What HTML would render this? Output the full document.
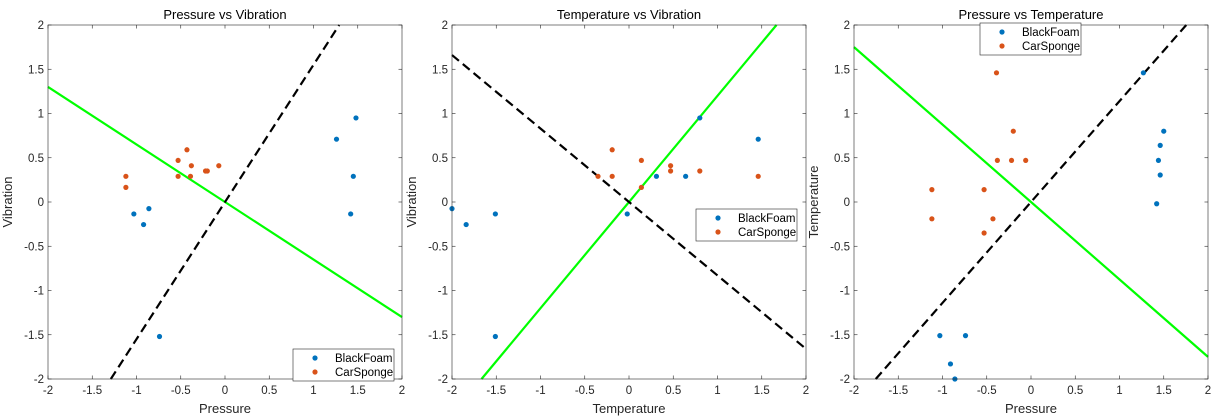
<!DOCTYPE html>
<html><head><meta charset="utf-8"><style>
html,body{margin:0;padding:0;background:#fff;width:1219px;height:420px;overflow:hidden;}
svg{display:block;font-family:"Liberation Sans",Arial,sans-serif;overflow:hidden;}
</style></head><body>
<svg id="c" width="1219" height="420"></svg>
<script>
const ticks = [-2,-1.5,-1,-0.5,0,0.5,1,1.5,2];
const titles = ["Pressure vs Vibration","Temperature vs Vibration","Pressure vs Temperature"];
const xLabels = ["Pressure","Temperature","Pressure"];
const yLabels = ["Vibration","Vibration","Temperature"];
const p1BlueX = [1.26,1.48,1.45,1.42,-1.03,-0.92,-0.86,-0.74];
const p1BlueY = [0.71,0.95,0.29,-0.135,-0.135,-0.255,-0.075,-1.52];
const p1OrangeX = [-1.12,-1.12,-0.53,-0.53,-0.43,-0.38,-0.39,-0.22,-0.20,-0.07];
const p1OrangeY = [0.29,0.165,0.47,0.29,0.59,0.41,0.29,0.35,0.35,0.41];
const p2BlueX = [-2.0,-1.84,-1.51,-1.51,-0.02,0.31,0.64,0.80,1.46];
const p2BlueY = [-0.075,-0.255,-0.135,-1.52,-0.135,0.29,0.29,0.95,0.71];
const p2OrangeX = [-0.35,-0.19,-0.19,0.14,0.14,0.47,0.47,0.80,1.46];
const p2OrangeY = [0.29,0.59,0.29,0.47,0.165,0.41,0.35,0.35,0.29];
const p3BlueX = [1.27,1.50,1.46,1.44,1.46,1.42,-1.03,-0.74,-0.91,-0.86];
const p3BlueY = [1.46,0.80,0.64,0.47,0.305,-0.02,-1.51,-1.51,-1.83,-2.0];
const p3OrangeX = [-0.39,-0.20,-0.38,-0.22,-0.06,-1.12,-0.53,-1.12,-0.43,-0.53];
const p3OrangeY = [1.46,0.80,0.47,0.47,0.47,0.14,0.14,-0.19,-0.19,-0.35];
const greenSlopes = [-0.65,1.2,-0.875];
const dashSlopes = [1.55,-0.83,1.14];
const legendPos = [[293,349],[696,209],[980,23]];

const NS="http://www.w3.org/2000/svg";
const svg=document.getElementById('c');
function mk(tag,attrs,parent){const e=document.createElementNS(NS,tag);for(const k in attrs)e.setAttribute(k,attrs[k]);(parent||svg).appendChild(e);return e;}
const lefts=[48,452,854];
const top0=25, size=354;
const series=[[p1BlueX,p1BlueY,p1OrangeX,p1OrangeY],[p2BlueX,p2BlueY,p2OrangeX,p2OrangeY],[p3BlueX,p3BlueY,p3OrangeX,p3OrangeY]];
for(let p=0;p<3;p++){
  const L=lefts[p];
  const g=mk('g',{});
  
  
  const sx=v=>L+(v+2)/4*size, sy=v=>top0+(2-v)/4*size;
  mk('rect',{x:L,y:top0,width:size,height:size,fill:'#fff',stroke:'none'},g);
  ticks.forEach(t=>{
    const x=sx(t), y=sy(t);
    mk('line',{x1:x,y1:top0+size,x2:x,y2:top0+size-3.5,stroke:'#262626','stroke-width':0.6},g);
    mk('line',{x1:x,y1:top0,x2:x,y2:top0+3.5,stroke:'#262626','stroke-width':0.6},g);
    mk('line',{x1:L,y1:y,x2:L+3.5,y2:y,stroke:'#262626','stroke-width':0.6},g);
    mk('line',{x1:L+size,y1:y,x2:L+size-3.5,y2:y,stroke:'#262626','stroke-width':0.6},g);
    const tx=mk('text',{x:x,y:top0+size+15,'text-anchor':'middle','font-size':11.5,fill:'#262626'},g);tx.textContent=String(t);
    
    
    const ty=mk('text',{x:L-4,y:y+4,'text-anchor':'end','font-size':11.5,fill:'#262626'},g);ty.textContent=String(t);
    
    
  });
  const gs=greenSlopes[p], ds=dashSlopes[p];
  const xg=Math.min(2,2/Math.abs(gs)), xd=Math.min(2,2/Math.abs(ds));
  const gl=mk('line',{x1:sx(-xg),y1:sy(-xg*gs),x2:sx(xg),y2:sy(xg*gs),stroke:'#00ff00','stroke-width':2.2},g);
  
  
  const dl=mk('line',{x1:sx(-xd),y1:sy(-xd*ds),x2:sx(xd),y2:sy(xd*ds),stroke:'#000','stroke-width':2.2,'stroke-dasharray':'9,5'},g);
  
  
  const [bx,by,ox,oy]=series[p];
  bx.forEach((v,i)=>{const c=mk('circle',{cx:sx(v),cy:sy(by[i]),r:2.6,fill:'#0072BD'},g);
    
    });
  ox.forEach((v,i)=>{const c=mk('circle',{cx:sx(v),cy:sy(oy[i]),r:2.6,fill:'#D95319'},g);
    
    });
  mk('rect',{x:L,y:top0,width:size,height:size,fill:'none',stroke:'#262626','stroke-width':0.6},g);
  const tt=mk('text',{x:L+size/2,y:19,'text-anchor':'middle','font-size':13,fill:'#000'},g);tt.textContent=titles[p];
  
  
  const xl=mk('text',{x:L+size/2,y:413,'text-anchor':'middle','font-size':13,fill:'#262626'},g);xl.textContent=xLabels[p];
  
  
  const yx=L-36, yy=top0+size/2;
  const yl=mk('text',{x:yx,y:yy,'text-anchor':'middle','font-size':13,fill:'#262626',transform:'rotate(-90 '+yx+' '+yy+')'},g);yl.textContent=yLabels[p];
  
  
  const [lx,ly]=legendPos[p];
  const leg=mk('g',{},g);
  
  
  mk('rect',{x:lx,y:ly,width:101,height:32,fill:'#fff',stroke:'#262626','stroke-width':0.6},leg);
  mk('circle',{cx:lx+22,cy:ly+9,r:2.6,fill:'#0072BD'},leg);
  mk('circle',{cx:lx+22,cy:ly+23,r:2.6,fill:'#D95319'},leg);
  const t1=mk('text',{x:lx+42,y:ly+13,'font-size':11.5,fill:'#000'},leg);t1.textContent='BlackFoam';
  
  
  const t2=mk('text',{x:lx+42,y:ly+27,'font-size':11.5,fill:'#000'},leg);t2.textContent='CarSponge';
  
  
}
</script>
</body></html>
